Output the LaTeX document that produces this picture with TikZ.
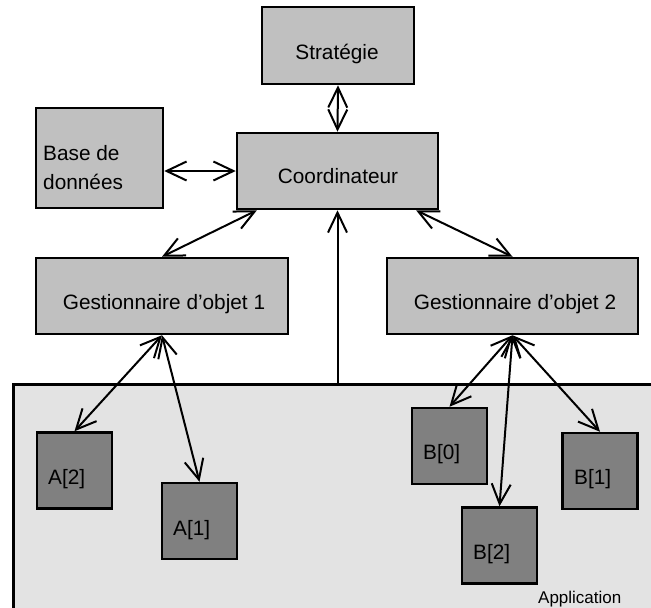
\documentclass[tikz,border=0pt]{standalone}
\usepackage{fontspec}
\setmainfont{Liberation Sans}
\usetikzlibrary{arrows.meta,calc}
\definecolor{boxgrey}{RGB}{192,192,192}
\definecolor{objgrey}{RGB}{128,128,128}
\definecolor{appgrey}{RGB}{227,227,227}
\begin{document}
\begin{tikzpicture}[x=1pt,y=-1pt,
  >={Straight Barb[length=20pt,width=19pt]},
  box/.style={draw, line width=2.5pt, fill=boxgrey, inner sep=0pt},
  objbox/.style={draw, line width=2.5pt, fill=objgrey, inner sep=0pt,
                 minimum width=75pt, minimum height=76pt},
  link/.style={line width=2pt, <->},
  lbl/.style={inner sep=0pt, font=\fontsize{20.8}{29}\selectfont},
]
\clip (0,0) rectangle (651,608);

% application area (runs off the right edge)
\node[draw, line width=2.5pt, fill=appgrey, inner sep=0pt, anchor=north west,
      minimum width=680pt, minimum height=224.5pt] (app) at (12,383) {};

% upper boxes
\node[box, minimum width=152pt, minimum height=77pt]  (strat) at (338,45.5) {};
\node[box, minimum width=127pt, minimum height=100pt] (base)  at (99.5,158) {};
\node[box, minimum width=201pt, minimum height=76pt]  (coord) at (337.5,171) {};
\node[box, minimum width=252pt, minimum height=76pt]  (go1)   at (162,296) {};
\node[box, minimum width=251pt, minimum height=76pt]  (go2)   at (512.5,296) {};

% objects
\node[objbox] (a2) at (74.5,470.5) {};
\node[objbox] (a1) at (199.5,521) {};
\node[objbox] (b0) at (449.5,446) {};
\node[objbox] (b1) at (600,471) {};
\node[objbox] (b2) at (499.5,545.5) {};

% labels
\node[lbl, anchor=base] (tstrat) at (337,59) {Stratégie};
\node[lbl, anchor=north west, align=left] (tbase) at (43,145.5) {Base de\\données};
\node[lbl, anchor=base] (tcoord) at (338,183) {Coordinateur};
\node[lbl, anchor=base] (tgo1) at (164,309) {Gestionnaire d’objet 1};
\node[lbl, anchor=base] (tgo2) at (515,309) {Gestionnaire d’objet 2};
\node[lbl, anchor=base west] (ta2) at (48,484) {A[2]};
\node[lbl, anchor=base west] (ta1) at (173,535) {A[1]};
\node[lbl, anchor=base west] (tb0) at (423,459) {B[0]};
\node[lbl, anchor=base west] (tb1) at (574,484) {B[1]};
\node[lbl, anchor=base west] (tb2) at (473,559) {B[2]};
\node[inner sep=0pt, anchor=base west, font=\fontsize{17}{20}\selectfont] (tapp) at (538,603) {Application};

% connectors
\draw[link] (strat.south) -- (coord.north);
\draw[link] (base.east |- coord.west) -- (coord.west);
\draw[link] ($(coord.south west)!0.104!(coord.south east)$) -- (go1.north);
\draw[link] ($(coord.south west)!0.886!(coord.south east)$) -- (go2.north);
\draw[line width=2pt, ->] (app.north -| coord.south) -- (coord.south);
\draw[link] (go1.south) -- (a2.north);
\draw[link] (go1.south) -- (a1.north);
\draw[link] (go2.south) -- (b0.north);
\draw[link] (go2.south) -- (b2.north);
\draw[link] (go2.south) -- (b1.north);
\end{tikzpicture}
\end{document}
